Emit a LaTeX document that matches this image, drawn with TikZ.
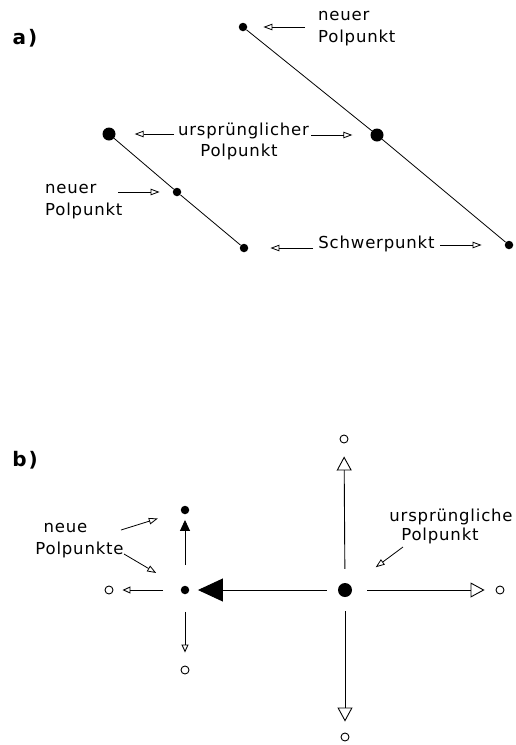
\documentclass[tikz,border=0pt]{standalone}
\usepackage{fontspec}
\newfontfamily\lblfont{DejaVu Sans}[LetterSpace=5]
\newfontfamily\partfont{DejaVu Sans}[LetterSpace=6]
\usetikzlibrary{arrows.meta}

\tikzset{
  txt/.style={font=\lblfont\fontsize{16.5}{20}\selectfont, inner sep=0pt},
  part/.style={font=\partfont\bfseries\fontsize{20}{24}\selectfont, inner sep=0pt},
  dotbig/.style={circle, fill=black, minimum size=13pt, inner sep=0pt},
  dotsmall/.style={circle, fill=black, minimum size=8.5pt, inner sep=0pt},
  ring/.style={circle, draw=black, line width=0.9pt, minimum size=8pt, inner sep=0pt},
  seg/.style={line width=0.8pt},
  lab/.style={line width=0.8pt, -{Triangle[open, length=9pt, width=6.5pt]}},
  bigopen/.style={line width=0.9pt, -{Triangle[open, length=14pt, width=15pt]}},
  bigfill/.style={line width=0.9pt, -{Triangle[length=25pt, width=23pt]}},
  smallfill/.style={line width=0.9pt, -{Triangle[length=11pt, width=10pt]}},
  smallopen/.style={line width=0.9pt, -{Triangle[open, length=8pt, width=7pt]}},
}

\begin{document}
\begin{tikzpicture}[x=1pt, y=-1pt]
\useasboundingbox (0,0) rectangle (515,745);

% ---------------- part a ----------------
\node[part] (la) at (25,38) {a\hspace{2pt})};

% long line with its pole points
\node[dotsmall] (pA1) at (243,27) {};
\node[dotbig]   (pA2) at (377,135) {};
\node[dotsmall] (pA3) at (509,245) {};
\draw[seg] (pA1) -- (pA2);
\draw[seg] (pA2) -- (pA3);

% short line with its pole points
\node[dotbig]   (pB1) at (109,134) {};
\node[dotsmall] (pB2) at (177,192) {};
\node[dotsmall] (pB3) at (244,248) {};
\draw[seg] (pB1) -- (pB2);
\draw[seg] (pB2) -- (pB3);

% labels
\node[txt, anchor=west] (nR1) at (318,16) {neuer};
\node[txt, anchor=west] (nR2) at (318,38) {Polpunkt};
\node[txt] (u1) at (243.5,131) {ursprünglicher};
\node[txt] (u2) at (239,152) {Polpunkt};
\node[txt, anchor=west] (nL1) at (45,189) {neuer};
\node[txt, anchor=west] (nL2) at (45,211) {Polpunkt};
\node[txt] (sw) at (376.5,244) {Schwerpunkt};

% label arrows
\coordinate (tNR) at (305,27);
\coordinate (tU1) at (174,134);
\coordinate (tU2) at (311,135);
\coordinate (tNL) at (118,192);
\coordinate (tS1) at (313,248);
\coordinate (tS2) at (440,245);
\draw[lab, shorten >=16pt] (tNR) -- (pA1);
\draw[lab, shorten >=19pt] (tU1) -- (pB1);
\draw[lab, shorten >=18pt] (tU2) -- (pA2);
\draw[lab, shorten >=13pt] (tNL) -- (pB2);
\draw[lab, shorten >=22pt] (tS1) -- (pB3);
\draw[lab, shorten >=23pt] (tS2) -- (pA3);

% ---------------- part b ----------------
\node[part] (lb) at (25,460) {b\hspace{2pt})};

\node[circle, fill=black, minimum size=14pt, inner sep=0pt] (pC) at (345,590) {};
\node[ring] (rU) at (344,439) {};
\node[ring] (rR) at (500,590) {};
\node[ring] (rD) at (345,737) {};

\node[dotsmall] (pS) at (185,590) {};
\node[dotsmall] (pU) at (185,510) {};
\node[ring] (rL) at (109,590) {};
\node[ring] (rS) at (185,670) {};

% moves of the original pole point
\draw[bigopen, shorten <=14pt, shorten >=13pt] (pC) -- (rU);
\draw[bigopen, shorten <=15pt, shorten >=11pt] (pC) -- (rR);
\draw[bigopen, shorten <=14pt, shorten >=11pt] (pC) -- (rD);
\draw[bigfill, shorten <=11pt, shorten >=8.5pt] (pC) -- (pS);

% moves of the new pole point
\draw[smallfill, shorten <=20.5pt, shorten >=5.5pt] (pS) -- (pU);
\draw[smallopen, shorten <=17.5pt, shorten >=9pt] (pS) -- (rL);
\draw[smallopen, shorten <=17.5pt, shorten >=13pt] (pS) -- (rS);

% labels
\node[txt] (ne1) at (65.5,528) {neue};
\node[txt] (ne2) at (79.5,550) {Polpunkte};
\node[txt] (ur1) at (451,517) {ursprüngliche};
\node[txt] (ur2) at (440,536) {Polpunkt};

\coordinate (tN1) at (121,530);
\coordinate (tN2) at (124,554);
\coordinate (tUr) at (403,547);
\draw[lab, shorten >=24pt] (tN1) -- (pU);
\draw[lab, shorten >=29pt] (tN2) -- (pS);
\draw[lab, shorten >=31pt] (tUr) -- (pC);
\end{tikzpicture}
\end{document}
